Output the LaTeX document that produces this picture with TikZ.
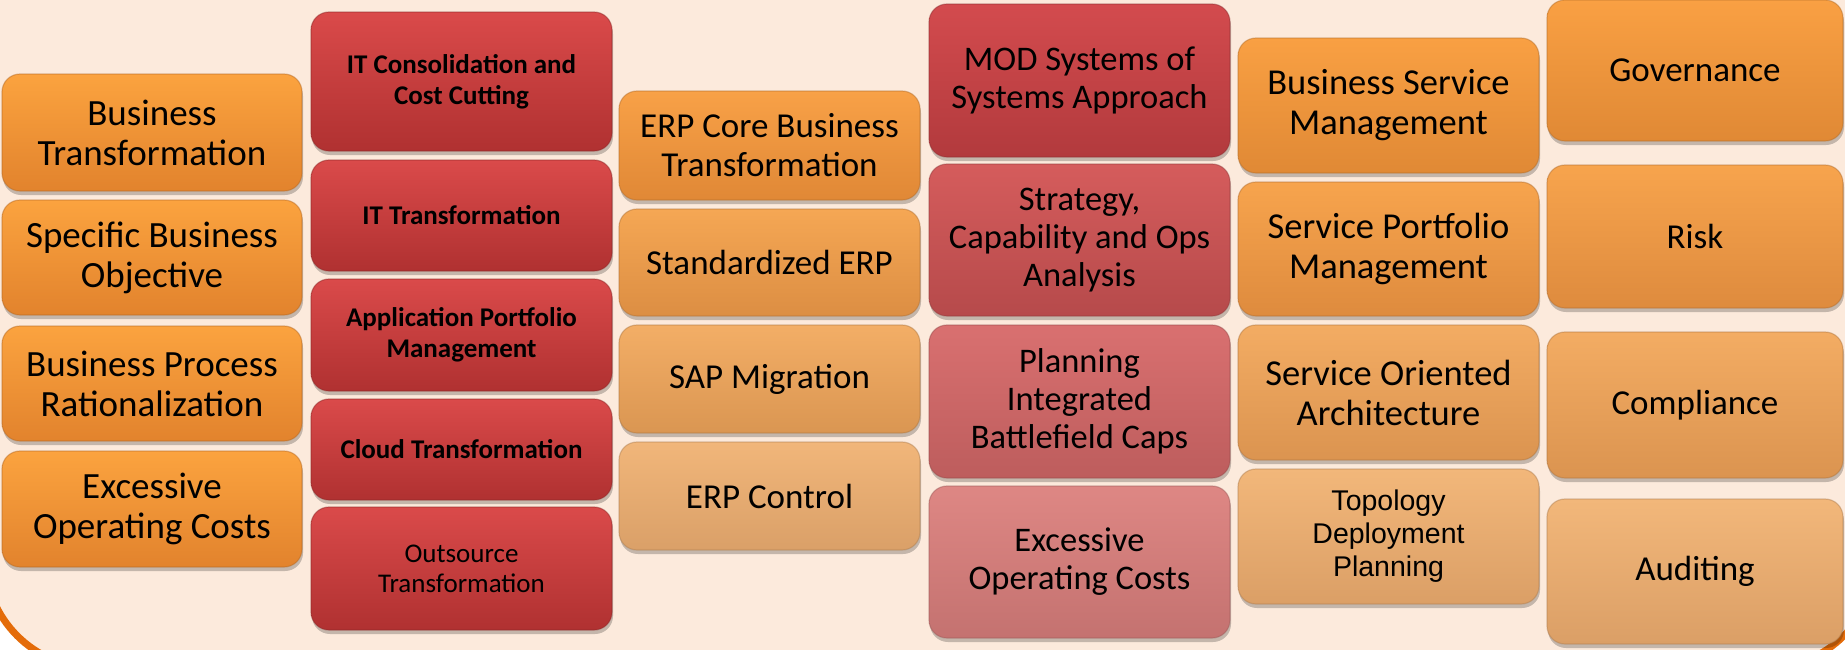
\documentclass[tikz,border=0pt]{standalone}
\usepackage{fontspec}
\setmainfont{Carlito}
\newfontfamily\arialf{Liberation Sans}
\usetikzlibrary{shadows}
\definecolor{peach}{HTML}{FCEADC}
\definecolor{rimc}{HTML}{E46C0A}
% column 1 and 2
\definecolor{oAt}{HTML}{FBA33F}\definecolor{oAb}{HTML}{E2832D}
\definecolor{rAt}{HTML}{DA4A4A}\definecolor{rAb}{HTML}{B03131}
% column 3
\definecolor{c3at}{HTML}{F8A147}\definecolor{c3ab}{HTML}{E08836}
\definecolor{c3bt}{HTML}{F5A754}\definecolor{c3bb}{HTML}{DC8E43}
\definecolor{c3ct}{HTML}{F3AE66}\definecolor{c3cb}{HTML}{DA9652}
\definecolor{c3dt}{HTML}{F1B67A}\definecolor{c3db}{HTML}{DAA068}
% column 4
\definecolor{c4at}{HTML}{D34B4E}\definecolor{c4ab}{HTML}{B23A3D}
\definecolor{c4bt}{HTML}{D55C5C}\definecolor{c4bb}{HTML}{B64A4B}
\definecolor{c4ct}{HTML}{D97070}\definecolor{c4cb}{HTML}{BD5D5D}
\definecolor{c4dt}{HTML}{DE8784}\definecolor{c4db}{HTML}{C47270}
% column 5 and 6
\definecolor{c5at}{HTML}{F9A043}\definecolor{c5ab}{HTML}{E08935}
\definecolor{c5bt}{HTML}{F7A44D}\definecolor{c5bb}{HTML}{DE8B3E}
\definecolor{c5ct}{HTML}{F3AC63}\definecolor{c5cb}{HTML}{DB9450}
\definecolor{c5dt}{HTML}{F2B77A}\definecolor{c5db}{HTML}{DB9F66}
\tikzset{
  bx/.style 2 args={rounded corners=18pt, top color=#1, bottom color=#2,
    draw=#2!80!black, draw opacity=0.45, line width=1.2pt,
    inner sep=4pt, outer sep=0pt, align=center, text=black,
    drop shadow={shadow xshift=1pt, shadow yshift=-4pt, opacity=0.22, fill=black}},
  fA/.style={font=\fontsize{37}{40}\selectfont},
  fB/.style={font=\fontsize{27}{31}\selectfont\bfseries},
  fBr/.style={font=\fontsize{27}{30}\selectfont},
  fC/.style={font=\fontsize{35}{39}\selectfont},
  fD/.style={font=\fontsize{34.5}{38}\selectfont},
  fE/.style={font=\fontsize{36.5}{40}\selectfont},
  fF/.style={font=\fontsize{35}{40}\selectfont},
  fT/.style={font=\arialf\fontsize{28.5}{33}\selectfont},
}
\begin{document}
\begin{tikzpicture}[x=1pt,y=-1pt]
\useasboundingbox (0,0) rectangle (1845,649);
\fill[white] (0,0) rectangle (1845,649);
\clip (0,0) rectangle (1845,649);
\draw[fill=peach, draw=rimc, line width=7pt, rounded corners=110pt] (-15,-100) rectangle (1876,668);

% column 1
\node[bx={oAt}{oAb}, fA, minimum width=300pt, minimum height=117pt] (bt) at (152,132.5) {Business\\Transformation};
\node[bx={oAt}{oAb}, fA, minimum width=300pt, minimum height=115pt] (sbo) at (152,257.5) {Specific Business\\Objective};
\node[bx={oAt}{oAb}, fA, minimum width=300pt, minimum height=115pt] (bpr) at (152,383.5) {Business Process\\Rationalization};
\node[bx={oAt}{oAb}, fA, minimum width=300pt, minimum height=116pt] (eoca) at (152,509) {Excessive\\Operating Costs};

% column 2
\node[bx={rAt}{rAb}, fB, minimum width=301pt, minimum height=139pt] (itc) at (461.5,81.5) {IT Consolidation and\\Cost Cutting};
\node[bx={rAt}{rAb}, fB, minimum width=301pt, minimum height=111pt] (itt) at (461.5,215.5) {IT Transformation};
\node[bx={rAt}{rAb}, fB, minimum width=301pt, minimum height=112pt] (apm) at (461.5,335) {Application Portfolio\\Management};
\node[bx={rAt}{rAb}, fB, minimum width=301pt, minimum height=101pt] (cld) at (461.5,449.5) {Cloud Transformation};
\node[bx={rAt}{rAb}, fBr, minimum width=301pt, minimum height=123pt] (ots) at (461.5,568.5) {Outsource\\Transformation};

% column 3
\node[bx={c3at}{c3ab}, fC, minimum width=301pt, minimum height=109pt] (erpc) at (769.5,145.5) {ERP Core Business\\Transformation};
\node[bx={c3bt}{c3bb}, fC, minimum width=301pt, minimum height=107pt] (serp) at (769.5,262.5) {Standardized ERP};
\node[bx={c3ct}{c3cb}, fC, minimum width=301pt, minimum height=108pt] (sap) at (769.5,379) {SAP Migration};
\node[bx={c3dt}{c3db}, fC, minimum width=301pt, minimum height=108pt] (ectl) at (769.5,496) {ERP Control};

% column 4
\node[bx={c4at}{c4ab}, fD, minimum width=301pt, minimum height=153pt] (mod) at (1079.5,80.5) {MOD Systems of\\Systems Approach};
\node[bx={c4bt}{c4bb}, fD, minimum width=301pt, minimum height=152pt] (strat) at (1079.5,240) {Strategy,\\Capability and Ops\\Analysis};
\node[bx={c4ct}{c4cb}, fD, minimum width=301pt, minimum height=153pt] (plan) at (1079.5,401.5) {Planning\\Integrated\\Battlefield Caps};
\node[bx={c4dt}{c4db}, fD, minimum width=301pt, minimum height=152pt] (eocb) at (1079.5,562) {Excessive\\Operating Costs};

% column 5
\node[bx={c5at}{c5ab}, fE, minimum width=301pt, minimum height=135pt] (bsm) at (1388.5,105.5) {Business Service\\Management};
\node[bx={c5bt}{c5bb}, fE, minimum width=301pt, minimum height=134pt] (spm) at (1388.5,249) {Service Portfolio\\Management};
\node[bx={c5ct}{c5cb}, fE, minimum width=301pt, minimum height=135pt] (soa) at (1388.5,392.5) {Service Oriented\\Architecture};
\node[bx={c5dt}{c5db}, fT, minimum width=301pt, minimum height=135pt] (topo) at (1388.5,536.5) {Topology\\Deployment\\Planning};

% column 6
\node[bx={c5at}{c5ab}, fF, minimum width=296pt, minimum height=141pt] (gov) at (1695,70.5) {Governance};
\node[bx={c5bt}{c5bb}, fF, minimum width=296pt, minimum height=143pt] (risk) at (1695,236.5) {Risk};
\node[bx={c5ct}{c5cb}, fF, minimum width=296pt, minimum height=146pt] (comp) at (1695,405) {Compliance};
\node[bx={c5dt}{c5db}, fF, minimum width=296pt, minimum height=145pt] (aud) at (1695,571.5) {Auditing};
\end{tikzpicture}
\end{document}
